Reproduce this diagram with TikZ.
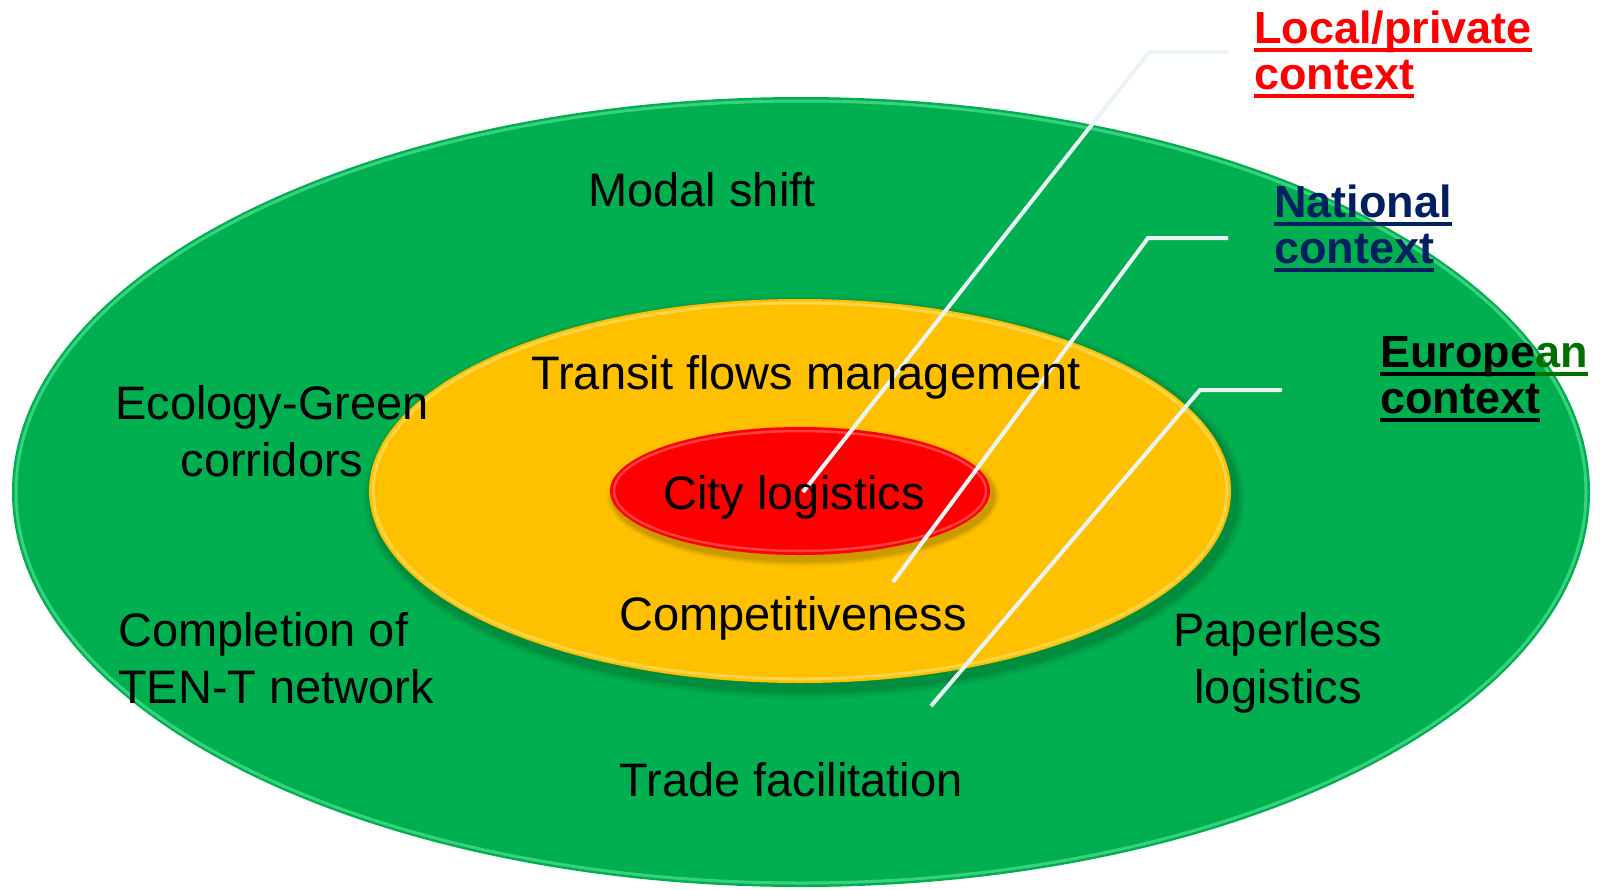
\documentclass[tikz,border=0pt]{standalone}
\usepackage{fontspec}
\setmainfont{Liberation Sans}
\usetikzlibrary{shapes.geometric}
\definecolor{ogreen}{HTML}{00B050}
\definecolor{rimgreen}{HTML}{5EE8A0}
\definecolor{oyellow}{HTML}{FFC000}
\definecolor{rimyellow}{HTML}{FFE27A}
\definecolor{ored}{HTML}{FF0000}
\definecolor{rimred}{HTML}{FF8080}
\definecolor{navy}{HTML}{002060}
\definecolor{dkgreen}{HTML}{007000}
\definecolor{leadc}{HTML}{EAF4F4}
\newcommand{\ulc}[2]{{\color{#1}\setbox0\hbox{#2}\rlap{\rule[-9pt]{\wd0}{4.5pt}}\box0}}
\begin{document}
\begin{tikzpicture}[x=1pt,y=-1pt,
  body/.style={font=\fontsize{47}{57}\selectfont, inner sep=0pt, align=center, anchor=base, text=black},
  lbl/.style={font=\bfseries\fontsize{45}{46}\selectfont, inner sep=0pt, anchor=base west},
  leader/.style={draw=leadc, line width=4pt},
  ring/.style={ellipse, inner sep=0pt}]
\useasboundingbox (0,0) rectangle (1600,889);
% outer ellipse
\node[ring, fill=ogreen, minimum width=1578pt, minimum height=790pt] (eu) at (801,492) {};
\draw[rimgreen, line width=3pt, opacity=0.6] (801,492) ellipse [x radius=785, y radius=391];
% shadow of middle ellipse
\foreach \o/\a in {10/0.05,7/0.07,4/0.09}{
  \fill[black, opacity=\a] (804,497) ellipse [x radius=431+\o, y radius=192+\o];}
\node[ring, fill=oyellow, minimum width=862pt, minimum height=384pt] (nat) at (800,491) {};
\draw[rimyellow, line width=3pt, opacity=0.6] (800,491) ellipse [x radius=427, y radius=188];
% shadow of inner ellipse
\foreach \o/\a in {6/0.05,4/0.07,2/0.09}{
  \fill[black, opacity=\a] (803,496) ellipse [x radius=190+\o, y radius=64+\o];}
\node[ring, fill=ored, minimum width=380pt, minimum height=128pt] (loc) at (800,491) {};
\draw[rimred, line width=2.5pt, opacity=0.5] (800,491) ellipse [x radius=186, y radius=60];
% leader lines
\coordinate (l1a) at (1228,52);
\coordinate (l1b) at (1149,52);
\coordinate (l1c) at (803,492);
\coordinate (l2a) at (1228,238);
\coordinate (l2b) at (1148,238);
\coordinate (l2c) at (893,582);
\coordinate (l3a) at (1282,390);
\coordinate (l3b) at (1200,390);
\coordinate (l3c) at (931,706);
\draw[leader] (l1a) -- (l1b) -- (l1c);
\draw[leader] (l2a) -- (l2b) -- (l2c);
\draw[leader] (l3a) -- (l3b) -- (l3c);
% texts
\node[body] (modal) at (702,206) {Modal shift};
\node[body] (transit) at (806,389) {Transit flows management};
\node[body] (eco) at (272,476) {Ecology-Green\\corridors};
\node[body] (city) at (794,509) {City logistics};
\node[body] (comp) at (793,630) {Competitiveness};
\node[body, align=left, anchor=base west] (ten) at (118,703) {Completion of\\TEN-T network};
\node[body] (paper) at (1278,703) {Paperless\\logistics};
\node[body] (trade) at (791,796) {Trade facilitation};
% labels
\node[lbl, align=left] (tlocal) at (1254,89) {\ulc{ored}{Local/private}\\\ulc{ored}{context}};
\node[lbl, align=left] (tnat) at (1274,263) {\ulc{navy}{National}\\\ulc{navy}{context}};
\node[lbl, align=left] (teu) at (1380,413) {\ulc{black}{Europe}\ulc{dkgreen}{an}\\\ulc{black}{context}};
\end{tikzpicture}
\end{document}
